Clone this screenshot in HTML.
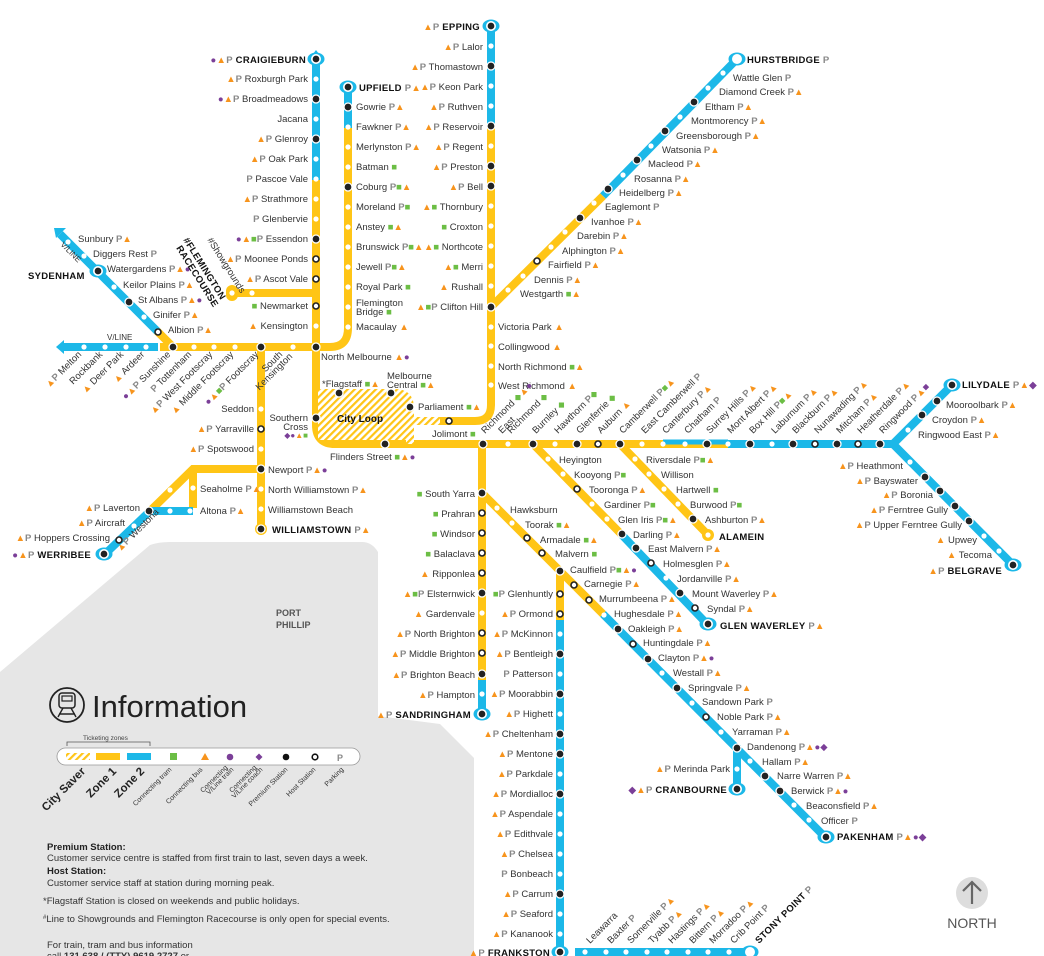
<!DOCTYPE html>
<html><head><meta charset="utf-8"><style>
html,body{margin:0;padding:0;background:#fff}
svg{display:block}
text{font-family:"Liberation Sans",sans-serif;font-size:9.5px;fill:#333}
.e{text-anchor:end}
.bd{font-weight:bold;fill:#111;font-size:9.5px;letter-spacing:0.3px}
.p{fill:#888;font-weight:bold}
.b{fill:#f7941d}
.t{fill:#6cbe45}
.v{fill:#7b3f98}
.y{stroke:#FFC516;stroke-width:8;fill:none}
.u{stroke:#1CB8E8;stroke-width:8;fill:none}
.cap{fill:#1CB8E8}
</style></head><body>
<svg width="1044" height="956" viewBox="0 0 1044 956" xmlns="http://www.w3.org/2000/svg">
<defs>
<pattern id="h" width="5" height="5" patternUnits="userSpaceOnUse" patternTransform="rotate(45)">
<rect width="5" height="5" fill="#fff"/><rect width="2.2" height="5" fill="#FFC516"/></pattern>
<g id="P"><circle r="4" fill="#222" stroke="#fff" stroke-width="1.3"/></g>
<g id="H"><circle r="3" fill="#fff" stroke="#222" stroke-width="1.6"/></g>
<g id="S"><circle r="2.6" fill="#fff"/></g>
<g id="C"><ellipse rx="8.5" ry="6.5" class="cap"/><ellipse rx="5" ry="5" fill="#fff"/></g>
</defs>

<!-- grey bay -->
<path d="M0,672 L150,545 Q158,542 170,542 L362,542 Q372,542 378,552 L378,716 L440,724 L474,758 L474,956 L0,956 Z" fill="#e6e6e6"/>

<!-- LINES -->
<path class="u" d="M316,58 V180"/>
<path class="y" d="M316,180 V347"/>
<path d="M316,50 l-6,8 h12 z" fill="#1CB8E8"/>
<path class="y" d="M316,293 H232"/>
<rect x="226" y="285" width="12" height="16" rx="6" fill="#FFC516"/>
<path class="u" d="M348,87 V128"/>
<path class="y" d="M348,128 V328 Q348,347 330,347 H316"/>
<path class="y" d="M160,347 H316"/>
<path class="u" d="M62,347 H158"/>
<path d="M56,347 l8,-7 v14 z" fill="#1CB8E8"/>
<path class="u" d="M60,234 L158,332"/>
<path d="M54,228 l12,0 l-10,10 z" fill="#1CB8E8"/>
<path class="y" d="M157,331 L173,347"/>
<path class="y" d="M316,347 V425 Q316,444 335,444 H482"/>
<path d="M318,393 H395 Q410,393 410,408 V440 H318 Z" fill="url(#h)"/>
<path d="M318,393 H395 Q410,393 410,408 V444" fill="none" stroke="url(#h)" stroke-width="8"/>
<path d="M410,421 H440" stroke="url(#h)" stroke-width="8"/>
<path class="u" d="M491,26 V166"/>
<path class="y" d="M491,126 V405 Q491,421 475,421 H440"/>
<path class="y" d="M491,307 L603,196"/>
<path class="u" d="M603,196 L737,59"/>
<path class="y" d="M482,444 H728"/>
<path d="M663,442 H728" stroke="#1CB8E8" stroke-width="5"/>
<path class="u" d="M728,444 H893 L1013,565"/>
<path class="u" d="M893,444 L952,385"/>
<path class="y" d="M533,444 L622,535"/>
<path class="u" d="M622,535 L708,625"/>
<path class="y" d="M620,444 L708,535"/>
<path class="y" d="M482,444 V680"/>
<path class="u" d="M482,680 V714"/>
<path class="y" d="M482,493 L603,614"/>
<path class="u" d="M603,614 L826,838"/>
<path class="u" d="M737,745 V789"/>
<path class="y" d="M560,571 V640"/>
<path class="u" d="M560,620 V952"/>
<path class="u" d="M575,952 H752"/>
<path class="y" d="M261,347 V529"/>
<path class="y" d="M261,469 H193 L150,511"/>
<path class="y" d="M193,469 V508"/>
<path class="u" d="M150,511 H193"/>
<path class="u" d="M150,511 L104,555"/>

<!-- terminal caps -->
<use href="#C" x="316" y="59"/><use href="#C" x="348" y="87"/><use href="#C" x="491" y="26"/><use href="#C" x="737" y="59"/><use href="#C" x="952" y="385"/><use href="#C" x="1013" y="565"/><use href="#C" x="708" y="624"/><use href="#C" x="826" y="837"/><use href="#C" x="737" y="789"/><use href="#C" x="560" y="952"/><use href="#C" x="750" y="952"/><use href="#C" x="482" y="714"/><use href="#C" x="104" y="554"/><use href="#C" x="98" y="271"/>

<!-- STATIONS -->
<g>
<use href="#P" x="316" y="59"/><use href="#S" x="316" y="79"/><use href="#P" x="316" y="99"/><use href="#S" x="316" y="119"/><use href="#P" x="316" y="139"/><use href="#S" x="316" y="159"/><use href="#S" x="316" y="179"/><use href="#S" x="316" y="199"/><use href="#S" x="316" y="219"/><use href="#P" x="316" y="239"/><use href="#H" x="316" y="259"/><use href="#H" x="316" y="279"/><use href="#H" x="316" y="306"/><use href="#S" x="316" y="326"/><use href="#P" x="316" y="347"/>
<use href="#S" x="252" y="293"/><use href="#S" x="232" y="293"/>
<use href="#P" x="348" y="87"/><use href="#P" x="348" y="107"/><use href="#S" x="348" y="127"/><use href="#S" x="348" y="147"/><use href="#S" x="348" y="167"/><use href="#P" x="348" y="187"/><use href="#S" x="348" y="207"/><use href="#S" x="348" y="227"/><use href="#S" x="348" y="247"/><use href="#S" x="348" y="267"/><use href="#S" x="348" y="287"/><use href="#S" x="348" y="307"/><use href="#S" x="348" y="327"/>
<use href="#P" x="491" y="26"/><use href="#S" x="491" y="46"/><use href="#P" x="491" y="66"/><use href="#S" x="491" y="86"/><use href="#S" x="491" y="106"/><use href="#P" x="491" y="126"/><use href="#S" x="491" y="146"/><use href="#P" x="491" y="166"/><use href="#P" x="491" y="186"/><use href="#S" x="491" y="206"/><use href="#S" x="491" y="226"/><use href="#S" x="491" y="246"/><use href="#S" x="491" y="266"/><use href="#S" x="491" y="286"/><use href="#P" x="491" y="307"/><use href="#S" x="491" y="327"/><use href="#S" x="491" y="346"/><use href="#S" x="491" y="366"/><use href="#S" x="491" y="385"/><use href="#H" x="449" y="421"/>
<use href="#S" x="737" y="59"/><use href="#S" x="723" y="73"/><use href="#S" x="708" y="88"/><use href="#P" x="694" y="102"/><use href="#S" x="680" y="117"/><use href="#P" x="665" y="131"/><use href="#S" x="651" y="146"/><use href="#P" x="637" y="160"/><use href="#S" x="623" y="175"/><use href="#P" x="608" y="189"/><use href="#S" x="594" y="203"/><use href="#P" x="580" y="218"/><use href="#S" x="565" y="232"/><use href="#S" x="551" y="247"/><use href="#H" x="537" y="261"/><use href="#S" x="523" y="276"/><use href="#S" x="508" y="290"/>
<use href="#P" x="339" y="393"/><use href="#P" x="391" y="393"/><use href="#P" x="410" y="407"/><use href="#P" x="385" y="444"/><use href="#P" x="316" y="418"/>
<use href="#P" x="483" y="444"/><use href="#S" x="508" y="444"/><use href="#P" x="533" y="444"/><use href="#S" x="555" y="444"/><use href="#P" x="577" y="444"/><use href="#H" x="598" y="444"/><use href="#P" x="620" y="444"/><use href="#S" x="642" y="444"/><use href="#S" x="663" y="444"/><use href="#S" x="685" y="444"/><use href="#P" x="707" y="444"/><use href="#S" x="728" y="444"/><use href="#P" x="750" y="444"/><use href="#S" x="772" y="444"/><use href="#P" x="793" y="444"/><use href="#H" x="815" y="444"/><use href="#P" x="837" y="444"/><use href="#H" x="858" y="444"/><use href="#P" x="880" y="444"/>
<use href="#S" x="908" y="430"/><use href="#P" x="922" y="415"/><use href="#P" x="937" y="401"/><use href="#P" x="952" y="385"/>
<use href="#S" x="910" y="462"/><use href="#P" x="925" y="477"/><use href="#P" x="940" y="491"/><use href="#P" x="955" y="506"/><use href="#P" x="969" y="521"/><use href="#S" x="984" y="536"/><use href="#S" x="999" y="551"/><use href="#P" x="1013" y="565"/>
<use href="#S" x="548" y="459"/><use href="#S" x="563" y="474"/><use href="#H" x="577" y="489"/><use href="#S" x="592" y="504"/><use href="#S" x="607" y="519"/><use href="#P" x="622" y="534"/><use href="#P" x="636" y="548"/><use href="#H" x="651" y="563"/><use href="#S" x="666" y="578"/><use href="#P" x="680" y="593"/><use href="#H" x="695" y="608"/><use href="#P" x="708" y="624"/>
<use href="#S" x="635" y="459"/><use href="#S" x="649" y="474"/><use href="#S" x="664" y="489"/><use href="#S" x="678" y="504"/><use href="#P" x="693" y="519"/>
<use href="#P" x="482" y="493"/><use href="#H" x="482" y="513"/><use href="#H" x="482" y="533"/><use href="#H" x="482" y="553"/><use href="#H" x="482" y="573"/><use href="#P" x="482" y="593"/><use href="#S" x="482" y="613"/><use href="#H" x="482" y="633"/><use href="#H" x="482" y="653"/><use href="#P" x="482" y="674"/><use href="#S" x="482" y="694"/><use href="#P" x="482" y="714"/>
<use href="#S" x="497" y="508"/><use href="#S" x="512" y="523"/><use href="#H" x="527" y="538"/><use href="#H" x="542" y="553"/><use href="#P" x="560" y="571"/><use href="#H" x="574" y="585"/><use href="#H" x="589" y="600"/><use href="#S" x="604" y="615"/><use href="#P" x="618" y="629"/><use href="#H" x="633" y="644"/><use href="#P" x="648" y="659"/><use href="#S" x="662" y="673"/><use href="#P" x="677" y="688"/><use href="#S" x="692" y="703"/><use href="#H" x="706" y="717"/><use href="#S" x="721" y="732"/><use href="#P" x="737" y="748"/><use href="#S" x="750" y="761"/><use href="#P" x="765" y="776"/><use href="#P" x="780" y="791"/><use href="#S" x="794" y="805"/><use href="#S" x="809" y="820"/><use href="#P" x="826" y="837"/>
<use href="#S" x="737" y="769"/><use href="#P" x="737" y="789"/>
<use href="#H" x="560" y="594"/><use href="#H" x="560" y="614"/><use href="#S" x="560" y="634"/><use href="#P" x="560" y="654"/><use href="#S" x="560" y="674"/><use href="#P" x="560" y="694"/><use href="#S" x="560" y="714"/><use href="#P" x="560" y="734"/><use href="#P" x="560" y="754"/><use href="#S" x="560" y="774"/><use href="#P" x="560" y="794"/><use href="#S" x="560" y="814"/><use href="#S" x="560" y="834"/><use href="#S" x="560" y="854"/><use href="#S" x="560" y="874"/><use href="#P" x="560" y="894"/><use href="#S" x="560" y="914"/><use href="#S" x="560" y="934"/><use href="#P" x="560" y="952"/>
<use href="#S" x="585" y="952"/><use href="#S" x="606" y="952"/><use href="#S" x="626" y="952"/><use href="#S" x="647" y="952"/><use href="#S" x="667" y="952"/><use href="#S" x="688" y="952"/><use href="#S" x="708" y="952"/><use href="#S" x="729" y="952"/><use href="#S" x="750" y="952"/>
<use href="#S" x="68" y="242"/><use href="#S" x="84" y="256"/><use href="#P" x="98" y="271"/><use href="#S" x="114" y="287"/><use href="#P" x="129" y="302"/><use href="#S" x="144" y="317"/><use href="#H" x="158" y="332"/>
<use href="#S" x="84" y="347"/><use href="#S" x="105" y="347"/><use href="#S" x="126" y="347"/><use href="#S" x="146" y="347"/><use href="#P" x="173" y="347"/><use href="#S" x="194" y="347"/><use href="#S" x="214" y="347"/><use href="#S" x="235" y="347"/><use href="#P" x="261" y="347"/><use href="#S" x="293" y="347"/>
<use href="#S" x="261" y="409"/><use href="#H" x="261" y="429"/><use href="#S" x="261" y="449"/><use href="#P" x="261" y="469"/><use href="#S" x="261" y="489"/><use href="#S" x="261" y="509"/>
<use href="#S" x="193" y="488"/><use href="#S" x="190" y="511"/><use href="#S" x="170" y="511"/><use href="#P" x="149" y="511"/><use href="#S" x="134" y="526"/><use href="#H" x="119" y="540"/><use href="#P" x="104" y="554"/><use href="#S" x="170" y="490"/>
</g>

<!-- LABELS -->
<g>
<text class="e bd" x="306" y="63"><tspan class="v">●</tspan><tspan class="b">▲</tspan><tspan class="p">P</tspan> CRAIGIEBURN</text>
<text class="e" x="308" y="82"><tspan class="b">▲</tspan><tspan class="p">P</tspan> Roxburgh Park</text>
<text class="e" x="308" y="102"><tspan class="v">●</tspan><tspan class="b">▲</tspan><tspan class="p">P</tspan> Broadmeadows</text>
<text class="e" x="308" y="122">Jacana</text>
<text class="e" x="308" y="142"><tspan class="b">▲</tspan><tspan class="p">P</tspan> Glenroy</text>
<text class="e" x="308" y="162"><tspan class="b">▲</tspan><tspan class="p">P</tspan> Oak Park</text>
<text class="e" x="308" y="182"><tspan class="p">P</tspan> Pascoe Vale</text>
<text class="e" x="308" y="202"><tspan class="b">▲</tspan><tspan class="p">P</tspan> Strathmore</text>
<text class="e" x="308" y="222"><tspan class="p">P</tspan> Glenbervie</text>
<text class="e" x="308" y="242"><tspan class="v">●</tspan><tspan class="b">▲</tspan><tspan class="t">■</tspan><tspan class="p">P</tspan> Essendon</text>
<text class="e" x="308" y="262"><tspan class="b">▲</tspan><tspan class="p">P</tspan> Moonee Ponds</text>
<text class="e" x="308" y="282"><tspan class="b">▲</tspan><tspan class="p">P</tspan> Ascot Vale</text>
<text class="e" x="308" y="309"><tspan class="t">■</tspan> Newmarket</text>
<text class="e" x="308" y="329"><tspan class="b">▲</tspan> Kensington</text>
<text x="321" y="360">North Melbourne <tspan class="b">▲</tspan><tspan class="v">●</tspan></text>

<text class="bd" x="359" y="91">UPFIELD <tspan class="p">P</tspan><tspan class="b">▲</tspan></text>
<text x="356" y="110">Gowrie <tspan class="p">P</tspan><tspan class="b">▲</tspan></text>
<text x="356" y="130">Fawkner <tspan class="p">P</tspan><tspan class="b">▲</tspan></text>
<text x="356" y="150">Merlynston <tspan class="p">P</tspan><tspan class="b">▲</tspan></text>
<text x="356" y="170">Batman <tspan class="t">■</tspan></text>
<text x="356" y="190">Coburg <tspan class="p">P</tspan><tspan class="t">■</tspan><tspan class="b">▲</tspan></text>
<text x="356" y="210">Moreland <tspan class="p">P</tspan><tspan class="t">■</tspan></text>
<text x="356" y="230">Anstey <tspan class="t">■</tspan><tspan class="b">▲</tspan></text>
<text x="356" y="250">Brunswick <tspan class="p">P</tspan><tspan class="t">■</tspan><tspan class="b">▲</tspan></text>
<text x="356" y="270">Jewell <tspan class="p">P</tspan><tspan class="t">■</tspan><tspan class="b">▲</tspan></text>
<text x="356" y="290">Royal Park <tspan class="t">■</tspan></text>
<text x="356" y="306">Flemington</text>
<text x="356" y="315">Bridge <tspan class="t">■</tspan></text>
<text x="356" y="330">Macaulay <tspan class="b">▲</tspan></text>

<text class="e bd" x="480" y="30"><tspan class="b">▲</tspan><tspan class="p">P</tspan> EPPING</text>
<text class="e" x="483" y="50"><tspan class="b">▲</tspan><tspan class="p">P</tspan> Lalor</text>
<text class="e" x="483" y="70"><tspan class="b">▲</tspan><tspan class="p">P</tspan> Thomastown</text>
<text class="e" x="483" y="90"><tspan class="b">▲</tspan><tspan class="p">P</tspan> Keon Park</text>
<text class="e" x="483" y="110"><tspan class="b">▲</tspan><tspan class="p">P</tspan> Ruthven</text>
<text class="e" x="483" y="130"><tspan class="b">▲</tspan><tspan class="p">P</tspan> Reservoir</text>
<text class="e" x="483" y="150"><tspan class="b">▲</tspan><tspan class="p">P</tspan> Regent</text>
<text class="e" x="483" y="170"><tspan class="b">▲</tspan><tspan class="p">P</tspan> Preston</text>
<text class="e" x="483" y="190"><tspan class="b">▲</tspan><tspan class="p">P</tspan> Bell</text>
<text class="e" x="483" y="210"><tspan class="b">▲</tspan><tspan class="t">■</tspan> Thornbury</text>
<text class="e" x="483" y="230"><tspan class="t">■</tspan> Croxton</text>
<text class="e" x="483" y="250"><tspan class="b">▲</tspan><tspan class="t">■</tspan> Northcote</text>
<text class="e" x="483" y="270"><tspan class="b">▲</tspan><tspan class="t">■</tspan> Merri</text>
<text class="e" x="483" y="290"><tspan class="b">▲</tspan> Rushall</text>
<text class="e" x="483" y="310"><tspan class="b">▲</tspan><tspan class="t">■</tspan><tspan class="p">P</tspan> Clifton Hill</text>
<text x="498" y="330">Victoria Park <tspan class="b">▲</tspan></text>
<text x="498" y="350">Collingwood <tspan class="b">▲</tspan></text>
<text x="498" y="370">North Richmond <tspan class="t">■</tspan><tspan class="b">▲</tspan></text>
<text x="498" y="389">West Richmond <tspan class="b">▲</tspan></text>

<text class="bd" x="747" y="63">HURSTBRIDGE <tspan class="p">P</tspan></text>
<text x="733" y="81">Wattle Glen <tspan class="p">P</tspan></text>
<text x="719" y="95">Diamond Creek <tspan class="p">P</tspan><tspan class="b">▲</tspan></text>
<text x="705" y="110">Eltham <tspan class="p">P</tspan><tspan class="b">▲</tspan></text>
<text x="691" y="124">Montmorency <tspan class="p">P</tspan><tspan class="b">▲</tspan></text>
<text x="676" y="139">Greensborough <tspan class="p">P</tspan><tspan class="b">▲</tspan></text>
<text x="662" y="153">Watsonia <tspan class="p">P</tspan><tspan class="b">▲</tspan></text>
<text x="648" y="167">Macleod <tspan class="p">P</tspan><tspan class="b">▲</tspan></text>
<text x="634" y="182">Rosanna <tspan class="p">P</tspan><tspan class="b">▲</tspan></text>
<text x="619" y="196">Heidelberg <tspan class="p">P</tspan><tspan class="b">▲</tspan></text>
<text x="605" y="210">Eaglemont <tspan class="p">P</tspan></text>
<text x="591" y="225">Ivanhoe <tspan class="p">P</tspan><tspan class="b">▲</tspan></text>
<text x="577" y="239">Darebin <tspan class="p">P</tspan><tspan class="b">▲</tspan></text>
<text x="562" y="254">Alphington <tspan class="p">P</tspan><tspan class="b">▲</tspan></text>
<text x="548" y="268">Fairfield <tspan class="p">P</tspan><tspan class="b">▲</tspan></text>
<text x="534" y="283">Dennis <tspan class="p">P</tspan><tspan class="b">▲</tspan></text>
<text x="520" y="297">Westgarth <tspan class="t">■</tspan><tspan class="b">▲</tspan></text>

<text x="322" y="387">*Flagstaff <tspan class="t">■</tspan><tspan class="b">▲</tspan></text>
<text x="387" y="379">Melbourne</text>
<text x="387" y="388">Central <tspan class="t">■</tspan><tspan class="b">▲</tspan></text>
<text x="418" y="410">Parliament <tspan class="t">■</tspan><tspan class="b">▲</tspan></text>
<text x="432" y="437">Jolimont <tspan class="t">■</tspan></text>
<text x="337" y="422" style="font-weight:bold;font-size:10px;fill:#111">City Loop</text>
<text x="330" y="460">Flinders Street <tspan class="t">■</tspan><tspan class="b">▲</tspan><tspan class="v">●</tspan></text>
<text class="e" x="308" y="421">Southern</text>
<text class="e" x="308" y="430">Cross</text>
<text class="e" x="308" y="438" style="font-size:8px"><tspan class="v">◆●</tspan><tspan class="b">▲</tspan><tspan class="t">■</tspan></text>

<text transform="translate(485,434) rotate(-45)">Richmond <tspan class="t">◆</tspan><tspan class="b">▲</tspan><tspan class="v">●</tspan></text>
<text transform="translate(502,434) rotate(-45)">East</text>
<text transform="translate(511,434) rotate(-45)">Richmond <tspan class="t">◆</tspan></text>
<text transform="translate(536,434) rotate(-45)">Burnley <tspan class="t">◆</tspan></text>
<text transform="translate(558,434) rotate(-45)">Hawthorn <tspan class="p">P</tspan><tspan class="t">◆</tspan></text>
<text transform="translate(580,434) rotate(-45)">Glenferrie <tspan class="t">◆</tspan></text>
<text transform="translate(601,434) rotate(-45)">Auburn  <tspan class="b">▲</tspan></text>
<text transform="translate(623,434) rotate(-45)">Camberwell <tspan class="p">P</tspan><tspan class="t">■</tspan><tspan class="b">▲</tspan></text>
<text transform="translate(645,434) rotate(-45)">East Camberwell <tspan class="p">P</tspan></text>
<text transform="translate(666,434) rotate(-45)">Canterbury <tspan class="p">P</tspan><tspan class="b">▲</tspan></text>
<text transform="translate(688,434) rotate(-45)">Chatham <tspan class="p">P</tspan></text>
<text transform="translate(710,434) rotate(-45)">Surrey Hills <tspan class="p">P</tspan><tspan class="b">▲</tspan></text>
<text transform="translate(731,434) rotate(-45)">Mont Albert <tspan class="p">P</tspan><tspan class="b">▲</tspan></text>
<text transform="translate(753,434) rotate(-45)">Box Hill <tspan class="p">P</tspan><tspan class="t">■</tspan><tspan class="b">▲</tspan></text>
<text transform="translate(775,434) rotate(-45)">Laburnum <tspan class="p">P</tspan><tspan class="b">▲</tspan></text>
<text transform="translate(796,434) rotate(-45)">Blackburn <tspan class="p">P</tspan><tspan class="b">▲</tspan></text>
<text transform="translate(818,434) rotate(-45)">Nunawading <tspan class="p">P</tspan><tspan class="b">▲</tspan></text>
<text transform="translate(840,434) rotate(-45)">Mitcham <tspan class="p">P</tspan><tspan class="b">▲</tspan></text>
<text transform="translate(861,434) rotate(-45)">Heatherdale <tspan class="p">P</tspan><tspan class="b">▲</tspan></text>
<text transform="translate(883,434) rotate(-45)">Ringwood <tspan class="p">P</tspan><tspan class="b">▲</tspan><tspan class="v">■</tspan></text>

<text class="bd" x="962" y="388">LILYDALE <tspan class="p">P</tspan><tspan class="b">▲</tspan><tspan class="v">◆</tspan></text>
<text x="946" y="408">Mooroolbark <tspan class="p">P</tspan><tspan class="b">▲</tspan></text>
<text x="932" y="423">Croydon <tspan class="p">P</tspan><tspan class="b">▲</tspan></text>
<text x="918" y="438">Ringwood East <tspan class="p">P</tspan><tspan class="b">▲</tspan></text>
<text class="e" x="903" y="469"><tspan class="b">▲</tspan><tspan class="p">P</tspan> Heathmont</text>
<text class="e" x="918" y="484"><tspan class="b">▲</tspan><tspan class="p">P</tspan> Bayswater</text>
<text class="e" x="933" y="498"><tspan class="b">▲</tspan><tspan class="p">P</tspan> Boronia</text>
<text class="e" x="948" y="513"><tspan class="b">▲</tspan><tspan class="p">P</tspan> Ferntree Gully</text>
<text class="e" x="962" y="528"><tspan class="b">▲</tspan><tspan class="p">P</tspan> Upper Ferntree Gully</text>
<text class="e" x="977" y="543"><tspan class="b">▲</tspan> Upwey</text>
<text class="e" x="992" y="558"><tspan class="b">▲</tspan> Tecoma</text>
<text class="e bd" x="1002" y="574"><tspan class="b">▲</tspan><tspan class="p">P</tspan> BELGRAVE</text>

<text x="559" y="463">Heyington</text>
<text x="574" y="478">Kooyong <tspan class="p">P</tspan><tspan class="t">■</tspan></text>
<text x="589" y="493">Tooronga <tspan class="p">P</tspan><tspan class="b">▲</tspan></text>
<text x="604" y="508">Gardiner <tspan class="p">P</tspan><tspan class="t">■</tspan></text>
<text x="618" y="523">Glen Iris <tspan class="p">P</tspan><tspan class="t">■</tspan><tspan class="b">▲</tspan></text>
<text x="633" y="538">Darling <tspan class="p">P</tspan><tspan class="b">▲</tspan></text>
<text x="648" y="552">East Malvern <tspan class="p">P</tspan><tspan class="b">▲</tspan></text>
<text x="663" y="567">Holmesglen <tspan class="p">P</tspan><tspan class="b">▲</tspan></text>
<text x="677" y="582">Jordanville <tspan class="p">P</tspan><tspan class="b">▲</tspan></text>
<text x="692" y="597">Mount Waverley <tspan class="p">P</tspan><tspan class="b">▲</tspan></text>
<text x="707" y="612">Syndal <tspan class="p">P</tspan><tspan class="b">▲</tspan></text>
<text class="bd" x="720" y="629">GLEN WAVERLEY <tspan class="p">P</tspan><tspan class="b">▲</tspan></text>

<text x="646" y="463">Riversdale <tspan class="p">P</tspan><tspan class="t">■</tspan><tspan class="b">▲</tspan></text>
<text x="661" y="478">Willison</text>
<text x="676" y="493">Hartwell <tspan class="t">■</tspan></text>
<text x="690" y="508">Burwood <tspan class="p">P</tspan><tspan class="t">■</tspan></text>
<text x="705" y="523">Ashburton <tspan class="p">P</tspan><tspan class="b">▲</tspan></text>
<text class="bd" x="719" y="540">ALAMEIN</text>
<rect x="702" y="529" width="12" height="12" rx="6" fill="#FFC516"/>
<use href="#S" x="708" y="535"/>

<text class="e" x="475" y="497"><tspan class="t">■</tspan> South Yarra</text>
<text class="e" x="475" y="517"><tspan class="t">■</tspan> Prahran</text>
<text class="e" x="475" y="537"><tspan class="t">■</tspan> Windsor</text>
<text class="e" x="475" y="557"><tspan class="t">■</tspan> Balaclava</text>
<text class="e" x="475" y="577"><tspan class="b">▲</tspan> Ripponlea</text>
<text class="e" x="475" y="597"><tspan class="b">▲</tspan><tspan class="t">■</tspan><tspan class="p">P</tspan> Elsternwick</text>
<text class="e" x="475" y="617"><tspan class="b">▲</tspan> Gardenvale</text>
<text class="e" x="475" y="637"><tspan class="b">▲</tspan><tspan class="p">P</tspan> North Brighton</text>
<text class="e" x="475" y="657"><tspan class="b">▲</tspan><tspan class="p">P</tspan> Middle Brighton</text>
<text class="e" x="475" y="678"><tspan class="b">▲</tspan><tspan class="p">P</tspan> Brighton Beach</text>
<text class="e" x="475" y="698"><tspan class="b">▲</tspan><tspan class="p">P</tspan> Hampton</text>
<text class="e bd" x="471" y="718"><tspan class="b">▲</tspan><tspan class="p">P</tspan> SANDRINGHAM</text>

<text x="510" y="513">Hawksburn</text>
<text x="525" y="528">Toorak <tspan class="t">■</tspan><tspan class="b">▲</tspan></text>
<text x="540" y="543">Armadale <tspan class="t">■</tspan><tspan class="b">▲</tspan></text>
<text x="555" y="557">Malvern <tspan class="t">■</tspan></text>
<text x="570" y="573">Caulfield <tspan class="p">P</tspan><tspan class="t">■</tspan><tspan class="b">▲</tspan><tspan class="v">●</tspan></text>
<text x="584" y="587">Carnegie <tspan class="p">P</tspan><tspan class="b">▲</tspan></text>
<text x="599" y="602">Murrumbeena <tspan class="p">P</tspan><tspan class="b">▲</tspan></text>
<text x="614" y="617">Hughesdale <tspan class="p">P</tspan><tspan class="b">▲</tspan></text>
<text x="628" y="632">Oakleigh <tspan class="p">P</tspan><tspan class="b">▲</tspan></text>
<text x="643" y="646">Huntingdale <tspan class="p">P</tspan><tspan class="b">▲</tspan></text>
<text x="658" y="661">Clayton <tspan class="p">P</tspan><tspan class="b">▲</tspan><tspan class="v">●</tspan></text>
<text x="673" y="676">Westall <tspan class="p">P</tspan><tspan class="b">▲</tspan></text>
<text x="688" y="691">Springvale <tspan class="p">P</tspan><tspan class="b">▲</tspan></text>
<text x="702" y="705">Sandown Park <tspan class="p">P</tspan></text>
<text x="717" y="720">Noble Park <tspan class="p">P</tspan><tspan class="b">▲</tspan></text>
<text x="732" y="735">Yarraman <tspan class="p">P</tspan><tspan class="b">▲</tspan></text>
<text x="747" y="750">Dandenong <tspan class="p">P</tspan><tspan class="b">▲</tspan><tspan class="v">●◆</tspan></text>
<text x="762" y="765">Hallam <tspan class="p">P</tspan><tspan class="b">▲</tspan></text>
<text x="777" y="779">Narre Warren <tspan class="p">P</tspan><tspan class="b">▲</tspan></text>
<text x="791" y="794">Berwick <tspan class="p">P</tspan><tspan class="b">▲</tspan><tspan class="v">●</tspan></text>
<text x="806" y="809">Beaconsfield <tspan class="p">P</tspan><tspan class="b">▲</tspan></text>
<text x="821" y="824">Officer <tspan class="p">P</tspan></text>
<text class="bd" x="837" y="840">PAKENHAM <tspan class="p">P</tspan><tspan class="b">▲</tspan><tspan class="v">●◆</tspan></text>
<text class="e" x="730" y="772"><tspan class="b">▲</tspan><tspan class="p">P</tspan> Merinda Park</text>
<text class="e bd" x="727" y="793"><tspan class="v">◆</tspan><tspan class="b">▲</tspan><tspan class="p">P</tspan> CRANBOURNE</text>

<text class="e" x="553" y="597"><tspan class="t">■</tspan><tspan class="p">P</tspan> Glenhuntly</text>
<text class="e" x="553" y="617"><tspan class="b">▲</tspan><tspan class="p">P</tspan> Ormond</text>
<text class="e" x="553" y="637"><tspan class="b">▲</tspan><tspan class="p">P</tspan> McKinnon</text>
<text class="e" x="553" y="657"><tspan class="b">▲</tspan><tspan class="p">P</tspan> Bentleigh</text>
<text class="e" x="553" y="677"><tspan class="p">P</tspan> Patterson</text>
<text class="e" x="553" y="697"><tspan class="b">▲</tspan><tspan class="p">P</tspan> Moorabbin</text>
<text class="e" x="553" y="717"><tspan class="b">▲</tspan><tspan class="p">P</tspan> Highett</text>
<text class="e" x="553" y="737"><tspan class="b">▲</tspan><tspan class="p">P</tspan> Cheltenham</text>
<text class="e" x="553" y="757"><tspan class="b">▲</tspan><tspan class="p">P</tspan> Mentone</text>
<text class="e" x="553" y="777"><tspan class="b">▲</tspan><tspan class="p">P</tspan> Parkdale</text>
<text class="e" x="553" y="797"><tspan class="b">▲</tspan><tspan class="p">P</tspan> Mordialloc</text>
<text class="e" x="553" y="817"><tspan class="b">▲</tspan><tspan class="p">P</tspan> Aspendale</text>
<text class="e" x="553" y="837"><tspan class="b">▲</tspan><tspan class="p">P</tspan> Edithvale</text>
<text class="e" x="553" y="857"><tspan class="b">▲</tspan><tspan class="p">P</tspan> Chelsea</text>
<text class="e" x="553" y="877"><tspan class="p">P</tspan> Bonbeach</text>
<text class="e" x="553" y="897"><tspan class="b">▲</tspan><tspan class="p">P</tspan> Carrum</text>
<text class="e" x="553" y="917"><tspan class="b">▲</tspan><tspan class="p">P</tspan> Seaford</text>
<text class="e" x="553" y="937"><tspan class="b">▲</tspan><tspan class="p">P</tspan> Kananook</text>
<text class="e bd" x="550" y="956"><tspan class="b">▲</tspan><tspan class="p">P</tspan> FRANKSTON</text>

<text transform="translate(590,944) rotate(-45)">Leawarra</text>
<text transform="translate(611,944) rotate(-45)">Baxter <tspan class="p">P</tspan></text>
<text transform="translate(631,944) rotate(-45)">Somerville <tspan class="p">P</tspan><tspan class="b">▲</tspan></text>
<text transform="translate(652,944) rotate(-45)">Tyabb <tspan class="p">P</tspan><tspan class="b">▲</tspan></text>
<text transform="translate(672,944) rotate(-45)">Hastings <tspan class="p">P</tspan><tspan class="b">▲</tspan></text>
<text transform="translate(693,944) rotate(-45)">Bittern <tspan class="p">P</tspan><tspan class="b">▲</tspan></text>
<text transform="translate(713,944) rotate(-45)">Morradoo <tspan class="p">P</tspan><tspan class="b">▲</tspan></text>
<text transform="translate(734,944) rotate(-45)">Crib Point <tspan class="p">P</tspan></text>
<text class="bd" transform="translate(759,944) rotate(-45)">STONY POINT <tspan class="p">P</tspan></text>

<text class="bd" x="28" y="279">SYDENHAM</text>
<text x="78" y="242">Sunbury <tspan class="p">P</tspan><tspan class="b">▲</tspan></text>
<text x="93" y="257">Diggers Rest <tspan class="p">P</tspan></text>
<text x="107" y="272">Watergardens <tspan class="p">P</tspan><tspan class="b">▲</tspan><tspan class="v">●</tspan></text>
<text x="123" y="288">Keilor Plains <tspan class="p">P</tspan><tspan class="b">▲</tspan></text>
<text x="138" y="303">St Albans <tspan class="p">P</tspan><tspan class="b">▲</tspan><tspan class="v">●</tspan></text>
<text x="153" y="318">Ginifer <tspan class="p">P</tspan><tspan class="b">▲</tspan></text>
<text x="168" y="333">Albion <tspan class="p">P</tspan><tspan class="b">▲</tspan></text>
<text transform="translate(60,245) rotate(45)" style="font-size:8px">V/LINE</text>
<text x="107" y="340" style="font-size:8px">V/LINE</text>
<text class="e" transform="translate(82,355) rotate(-45)"><tspan class="b">▲</tspan><tspan class="p">P</tspan> Melton</text>
<text class="e" transform="translate(103,355) rotate(-45)">Rockbank</text>
<text class="e" transform="translate(124,355) rotate(-45)"><tspan class="b">▲</tspan> Deer Park</text>
<text class="e" transform="translate(145,355) rotate(-45)"><tspan class="b">▲</tspan> Ardeer</text>
<text class="e" transform="translate(171,355) rotate(-45)"><tspan class="v">●</tspan><tspan class="b">▲</tspan><tspan class="p">P</tspan> Sunshine</text>
<text class="e" transform="translate(192,355) rotate(-45)"><tspan class="p">P</tspan> Tottenham</text>
<text class="e" transform="translate(213,355) rotate(-45)"><tspan class="b">▲</tspan><tspan class="p">P</tspan> West Footscray</text>
<text class="e" transform="translate(234,355) rotate(-45)"><tspan class="b">▲</tspan> Middle Footscray</text>
<text class="e" transform="translate(259,355) rotate(-45)"><tspan class="v">●</tspan><tspan class="b">▲</tspan><tspan class="t">■</tspan><tspan class="p">P</tspan> Footscray</text>
<text class="e" transform="translate(283,355) rotate(-45)">South</text>
<text class="e" transform="translate(293,357) rotate(-45)">Kensington</text>
<text class="bd" transform="translate(183,240) rotate(58)">#FLEMINGTON</text>
<text class="bd" transform="translate(176,248) rotate(58)">RACECOURSE</text>
<text transform="translate(207,240) rotate(58)">#Showgrounds</text>

<text class="e" x="254" y="412">Seddon</text>
<text class="e" x="254" y="432"><tspan class="b">▲</tspan><tspan class="p">P</tspan> Yarraville</text>
<text class="e" x="254" y="452"><tspan class="b">▲</tspan><tspan class="p">P</tspan> Spotswood</text>
<text x="268" y="473">Newport <tspan class="p">P</tspan><tspan class="b">▲</tspan><tspan class="v">●</tspan></text>
<text x="268" y="493">North Williamstown <tspan class="p">P</tspan><tspan class="b">▲</tspan></text>
<text x="268" y="513">Williamstown Beach</text>
<text class="bd" x="272" y="533">WILLIAMSTOWN <tspan class="p">P</tspan><tspan class="b">▲</tspan></text>
<rect x="255" y="523" width="12" height="12" rx="6" fill="#FFC516"/>
<use href="#P" x="261" y="529"/>
<text x="200" y="492">Seaholme <tspan class="p">P</tspan><tspan class="b">▲</tspan></text>
<text x="200" y="514">Altona <tspan class="p">P</tspan><tspan class="b">▲</tspan></text>
<text class="e" x="140" y="511"><tspan class="b">▲</tspan><tspan class="p">P</tspan> Laverton</text>
<text class="e" x="125" y="526"><tspan class="b">▲</tspan><tspan class="p">P</tspan> Aircraft</text>
<text class="e" x="110" y="541"><tspan class="b">▲</tspan><tspan class="p">P</tspan> Hoppers Crossing</text>
<text class="e bd" x="91" y="558"><tspan class="v">●</tspan><tspan class="b">▲</tspan><tspan class="p">P</tspan> WERRIBEE</text>
<text transform="translate(120,552) rotate(-45)"><tspan class="b">▲</tspan><tspan class="p">P</tspan> Westona</text>

<text x="276" y="616" style="font-weight:bold;font-size:9px;fill:#555">PORT</text>
<text x="276" y="628" style="font-weight:bold;font-size:9px;fill:#555">PHILLIP</text>

<circle cx="67" cy="705" r="17" fill="none" stroke="#222" stroke-width="1.8"/>
<rect x="59" y="693" width="16" height="15" rx="3" fill="none" stroke="#222" stroke-width="1.5"/>
<rect x="62" y="696" width="10" height="5" fill="none" stroke="#222" stroke-width="1.2"/>
<path d="M58,717 L63,708 M76,717 L71,708 M59,714 H75" stroke="#222" stroke-width="1.4"/>
<text x="92" y="717" style="font-size:31px;fill:#222">Information</text>
<text x="83" y="740" style="font-size:6.5px;fill:#444">Ticketing zones</text>
<path d="M67,746 V742 H150 V746" fill="none" stroke="#555" stroke-width="0.8"/>
<rect x="57" y="748" width="303" height="17" rx="8.5" fill="#fff" stroke="#999" stroke-width="0.8"/>
<rect x="66" y="753" width="24" height="7" fill="url(#h)"/>
<rect x="96" y="753" width="24" height="7" fill="#FFC516"/>
<rect x="127" y="753" width="24" height="7" fill="#1CB8E8"/>
<rect x="170" y="753" width="7" height="7" fill="#6cbe45"/>
<path d="M201,760 l4,-7 l4,7 z" fill="#f7941d"/>
<circle cx="230" cy="757" r="3.3" fill="#7b3f98"/>
<path d="M259,753.5 l3.5,3.5 l-3.5,3.5 l-3.5,-3.5 z" fill="#7b3f98"/>
<circle cx="286" cy="757" r="3.3" fill="#111"/>
<circle cx="315" cy="757" r="2.8" fill="#fff" stroke="#111" stroke-width="1.6"/>
<text x="337" y="761" class="p" style="font-size:9px">P</text>
<text class="e" transform="translate(86,772) rotate(-45)" style="font-size:11.5px;font-weight:bold;fill:#222">City Saver</text>
<text class="e" transform="translate(117,772) rotate(-45)" style="font-size:11.5px;font-weight:bold;fill:#222">Zone 1</text>
<text class="e" transform="translate(145,772) rotate(-45)" style="font-size:11.5px;font-weight:bold;fill:#222">Zone 2</text>
<text class="e" transform="translate(172,770) rotate(-45)" style="font-size:7px">Connecting tram</text>
<text class="e" transform="translate(203,770) rotate(-45)" style="font-size:7px">Connecting bus</text>
<text class="e" transform="translate(228,768) rotate(-45)" style="font-size:7px">Connecting</text>
<text class="e" transform="translate(234,770) rotate(-45)" style="font-size:7px">V/Line train</text>
<text class="e" transform="translate(257,768) rotate(-45)" style="font-size:7px">Connecting</text>
<text class="e" transform="translate(263,770) rotate(-45)" style="font-size:7px">V/Line coach</text>
<text class="e" transform="translate(288,770) rotate(-45)" style="font-size:7px">Premium Station</text>
<text class="e" transform="translate(316,770) rotate(-45)" style="font-size:7px">Host Station</text>
<text class="e" transform="translate(344,770) rotate(-45)" style="font-size:7px">Parking</text>
<text x="47" y="850" style="font-weight:bold;fill:#222">Premium Station:</text>
<text x="47" y="861">Customer service centre is staffed from first train to last, seven days a week.</text>
<text x="47" y="874" style="font-weight:bold;fill:#222">Host Station:</text>
<text x="47" y="886">Customer service staff at station during morning peak.</text>
<text x="43" y="904">*Flagstaff Station is closed on weekends and public holidays.</text>
<text x="43" y="922"><tspan style="font-size:6px" dy="-3">#</tspan><tspan dy="3">Line to Showgrounds and Flemington Racecourse is only open for special events.</tspan></text>
<text x="47" y="948">For train, tram and bus information</text>
<text x="47" y="959">call <tspan style="font-weight:bold">131 638 / (TTY) 9619 2727</tspan> or</text>

<circle cx="972" cy="893" r="16" fill="#ddd"/>
<path d="M972,904 V883 M963,891 L972,882 L981,891" fill="none" stroke="#666" stroke-width="2.2"/>
<text x="972" y="928" style="font-size:14px;fill:#555;text-anchor:middle">NORTH</text>
</g>
</svg>
</body></html>
